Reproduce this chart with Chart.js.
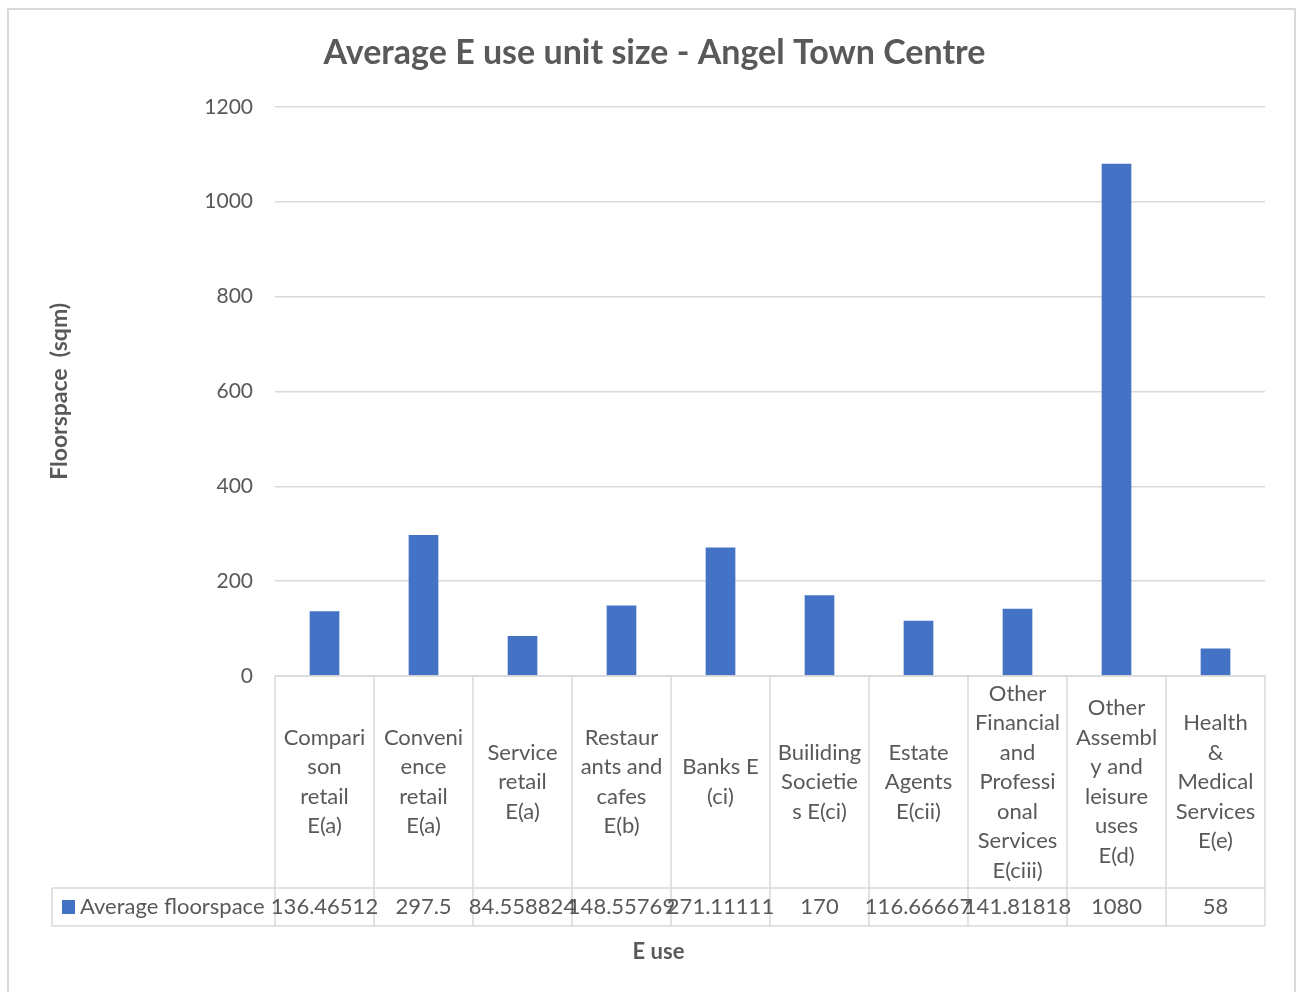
<!DOCTYPE html>
<html>
<head>
<meta charset="utf-8">
<script src="https://cdn.jsdelivr.net/npm/chart.js@4.4.1/dist/chart.umd.min.js"></script>
<style>
  html, body { margin: 0; padding: 0; background: #fff; }
  #wrap { position: relative; width: 1298px; height: 992px; }
  #frame { position: absolute; left: 7px; top: 8px; width: 1285px; height: 1000px;
           border: 2px solid #d9d9d9; pointer-events: none; }
</style>
</head>
<body>
<div id="wrap">
  <canvas id="c" width="1298" height="992"></canvas>
  <div id="frame"></div>
</div>
<script>
/* Average E use unit size - Angel Town Centre (Excel-style column chart with data table) */
var CATEGORIES = [
  ["Compari", "son", "retail", "E(a)"],
  ["Conveni", "ence", "retail", "E(a)"],
  ["Service", "retail", "E(a)"],
  ["Restaur", "ants and", "cafes", "E(b)"],
  ["Banks E", "(ci)"],
  ["Builiding", "Societie", "s E(ci)"],
  ["Estate", "Agents", "E(cii)"],
  ["Other", "Financial", "and", "Professi", "onal", "Services", "E(ciii)"],
  ["Other", "Assembl", "y and", "leisure", "uses", "E(d)"],
  ["Health", "&", "Medical", "Services", "E(e)"]
];
var VALUES = [136.46512, 297.5, 84.558824, 148.55769, 271.11111, 170, 116.66667, 141.81818, 1080, 58];
var SERIES_NAME = "Average floorspace";
var Y_TICKS = [0, 200, 400, 600, 800, 1000, 1200];

var BLUE = "#4472c4", TEXT = "#595959", GRID = "#d9d9d9";
var FONT = "Lato, 'Open Sans', sans-serif";

var tablePlugin = {
  id: "dataTable",
  afterDraw: function (chart) {
    var ctx = chart.ctx, xs = chart.scales.x, ys = chart.scales.y;
    var n = VALUES.length, w = (xs.right - xs.left) / n;
    var top = ys.bottom, rowTop = 888, rowBot = 926, legendLeft = 52;
    ctx.save();
    ctx.strokeStyle = GRID;
    ctx.lineWidth = 1.5;
    ctx.beginPath();
    ctx.moveTo(xs.left, top); ctx.lineTo(xs.right, top);
    ctx.moveTo(legendLeft, rowTop); ctx.lineTo(xs.right, rowTop);
    ctx.moveTo(legendLeft, rowBot); ctx.lineTo(xs.right, rowBot);
    ctx.moveTo(legendLeft, rowTop); ctx.lineTo(legendLeft, rowBot);
    for (var i = 0; i <= n; i++) {
      var x = xs.left + i * w;
      ctx.moveTo(x, top); ctx.lineTo(x, rowBot);
    }
    ctx.stroke();

    ctx.fillStyle = TEXT;
    ctx.font = "22px " + FONT;
    ctx.textAlign = "center";
    ctx.textBaseline = "middle";
    var lh = 29.5, mid = (top + rowTop) / 2;
    CATEGORIES.forEach(function (lines, i) {
      var cx = xs.getPixelForValue(i);
      var y0 = mid - (lines.length - 1) * lh / 2;
      lines.forEach(function (t, j) { ctx.fillText(t, cx, y0 + j * lh); });
      ctx.fillText(String(VALUES[i]), cx, (rowTop + rowBot) / 2);
    });

    // legend key in the data row
    ctx.fillStyle = BLUE;
    ctx.fillRect(62, 900, 13, 14);
    ctx.fillStyle = TEXT;
    ctx.textAlign = "left";
    ctx.fillText(SERIES_NAME, 80, (rowTop + rowBot) / 2);

    // axis title under the table
    ctx.font = "bold 22px " + FONT;
    ctx.textAlign = "center";
    ctx.fillText("E use", (legendLeft + xs.right) / 2, 952);
    ctx.restore();
  }
};

new Chart(document.getElementById("c"), {
  type: "bar",
  data: {
    labels: CATEGORIES,
    datasets: [{ label: SERIES_NAME, data: VALUES, backgroundColor: BLUE,
      barPercentage: 0.3, categoryPercentage: 1 }]
  },
  options: {
    responsive: false, animation: false,
    layout: { padding: { left: 44, right: 33, top: 0, bottom: 0 } },
    plugins: {
      legend: { display: false },
      tooltip: { enabled: false },
      title: { display: true, text: "Average E use unit size - Angel Town Centre",
        color: TEXT, font: { family: FONT, size: 34, weight: "bold" },
        padding: { top: 33, bottom: 33 } }
    },
    scales: {
      x: {
        grid: { display: false }, border: { display: false },
        ticks: { display: false },
        afterFit: function (s) { s.height = 316; }
      },
      y: {
        min: 0, max: 1200,
        afterBuildTicks: function (s) { s.ticks = Y_TICKS.map(function (v) { return { value: v }; }); },
        grid: { color: GRID, lineWidth: 1.5, drawTicks: false },
        border: { display: false },
        ticks: { color: TEXT, font: { family: FONT, size: 21 }, padding: 22,
          callback: function (v) { return String(v); } },
        title: { display: true, text: "Floorspace  (sqm)", color: TEXT,
          font: { family: FONT, size: 23, weight: "bold" }, padding: { top: 2, bottom: 4 } },
        afterFit: function (s) { s.width = 231; }
      }
    }
  },
  plugins: [tablePlugin]
});
</script>
</body>
</html>
